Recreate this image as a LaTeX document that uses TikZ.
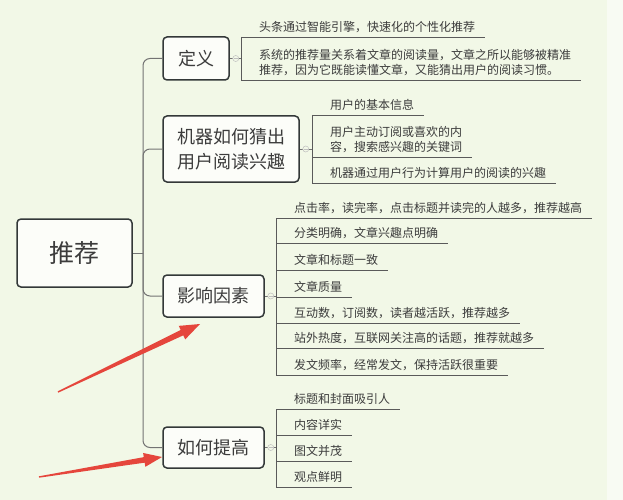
\documentclass[tikz,border=0pt]{standalone}
\usepackage{fontspec}
\setmainfont{Noto Sans CJK SC}
\usetikzlibrary{calc}
\definecolor{bg}{HTML}{F2F8E7}
\definecolor{bgr}{HTML}{F8FBF3}
\definecolor{txt}{HTML}{3C3C3C}
\definecolor{bord}{HTML}{333838}
\definecolor{ln}{HTML}{5A5A5A}
\definecolor{arr}{HTML}{E5463C}
\tikzset{
 topic/.style={draw=bord, line width=1.5pt, rounded corners=4pt, fill=white!75!bg, text=txt, inner sep=0pt, font=\fontsize{18}{25}\selectfont, align=center},
 leaf/.style={inner sep=0pt, text=txt, font=\fontsize{12}{15}\selectfont, align=left, anchor=south west},
 uline/.style={draw=ln, line width=0.9pt},
 conn/.style={draw=ln!85, line width=1pt},
 marker/.style={circle, draw=gray!50, fill=bg, line width=0.5pt, minimum size=6pt, inner sep=0pt,
   path picture={\draw[gray!50,line width=0.5pt] ([xshift=-1.8pt]path picture bounding box.center) -- ([xshift=1.8pt]path picture bounding box.center);}},
}
\newcommand{\uln}[1]{\draw[uline] ([xshift=-18pt,yshift=-4pt]#1.south west) -- ([xshift=10pt,yshift=-4pt]#1.south east);}
\newcommand{\brk}[2]{\draw[uline] ([xshift=-18pt,yshift=-4pt]#1.south west) -- ([xshift=-18pt,yshift=-4pt]#2.south west);}
\begin{document}
\begin{tikzpicture}[x=1pt,y=-1pt]
\fill[bg] (0,0) rectangle (623,500);
\fill[bgr] (607,0) rectangle (623,500);
\useasboundingbox (0,0) rectangle (623,500);

% main topics
\node[topic, minimum width=115pt, minimum height=68pt, font=\fontsize{25}{30}\selectfont] (root) at (74.5,253) {推荐};
\node[topic, minimum width=66pt, minimum height=43pt] (def) at (196,58.5) {定义};
\node[topic, minimum width=136pt, minimum height=66pt] (mach) at (231,149) {机器如何猜出\\用户阅读兴趣};
\node[topic, minimum width=101pt, minimum height=42pt] (fac) at (213.5,296) {影响因素};
\node[topic, minimum width=101pt, minimum height=41pt] (imp) at (213.5,447.5) {如何提高};

% trunk
\coordinate (j) at (143,253);
\draw[conn] (root.east) -- (j);
\draw[conn, rounded corners=7pt] (j) -- (143,58.5) -- (def.west);
\draw[conn, rounded corners=7pt] (j) -- (143,149) -- (mach.west);
\draw[conn, rounded corners=7pt] (j) -- (143,296) -- (fac.west);
\draw[conn, rounded corners=7pt] (j) -- (143,447.5) -- (imp.west);

% leaves of 定义
\node[leaf] (d1) at (259,33) {头条通过智能引擎，快速化的个性化推荐};
\node[leaf] (d2) at (259,76) {系统的推荐量关系着文章的阅读量，文章之所以能够被精准\\推荐，因为它既能读懂文章，又能猜出用户的阅读习惯。};
\uln{d1}\uln{d2}\brk{d1}{d2}
\coordinate (db) at (241,58.5);
\draw[conn] (def.east) -- (db);
\node[marker] (dm) at ($(def.east)+(6,0)$) {};

% leaves of 机器
\node[leaf] (m1) at (330,111) {用户的基本信息};
\node[leaf] (m2) at (330,153) {用户主动订阅或喜欢的内\\容，搜索感兴趣的关键词};
\node[leaf] (m3) at (330,179) {机器通过用户行为计算用户的阅读的兴趣};
\uln{m1}\uln{m2}\uln{m3}\brk{m1}{m3}
\coordinate (mb) at (312,149);
\draw[conn] (mach.east) -- (mb);
\node[marker] (mm) at ($(mach.east)+(6,0)$) {};

% leaves of 影响因素
\node[leaf] (f1) at (294,214) {点击率，读完率，点击标题并读完的人越多，推荐越高};
\node[leaf] (f2) at (294,239) {分类明确，文章兴趣点明确};
\node[leaf] (f3) at (294,266) {文章和标题一致};
\node[leaf] (f4) at (294,293) {文章质量};
\node[leaf] (f5) at (294,319) {互动数，订阅数，读者越活跃，推荐越多};
\node[leaf] (f6) at (294,344) {站外热度，互联网关注高的话题，推荐就越多};
\node[leaf] (f7) at (294,371) {发文频率，经常发文，保持活跃很重要};
\uln{f1}\uln{f2}\uln{f3}\uln{f4}\uln{f5}\uln{f6}\uln{f7}\brk{f1}{f7}
\coordinate (fb) at (276,296);
\draw[conn] (fac.east) -- (fb);
\node[marker] (fm) at ($(fac.east)+(6,0)$) {};

% leaves of 如何提高
\node[leaf] (i1) at (294,405) {标题和封面吸引人};
\node[leaf] (i2) at (294,431) {内容详实};
\node[leaf] (i3) at (294,457) {图文并茂};
\node[leaf] (i4) at (294,483) {观点鲜明};
\uln{i1}\uln{i2}\uln{i3}\uln{i4}\brk{i1}{i4}
\coordinate (ib) at (276,447.5);
\draw[conn] (imp.east) -- (ib);
\node[marker] (im) at ($(imp.east)+(6,0)$) {};

% red arrows
\coordinate (a1s) at (58,392);
\coordinate (a1t) at (200,324);
\coordinate (a1b) at ($(a1t)!20pt!(a1s)$);
\fill[arr] ($(a1s)!0.7pt!90:(a1t)$) -- ($(a1b)!3pt!90:(a1t)$) -- ($(a1b)!7.5pt!90:(a1t)$) -- (a1t) -- ($(a1b)!7.5pt!-90:(a1t)$) -- ($(a1b)!3pt!-90:(a1t)$) -- ($(a1s)!0.7pt!-90:(a1t)$) -- cycle;
\coordinate (a2s) at (39,477);
\coordinate (a2t) at (162,457);
\coordinate (a2b) at ($(a2t)!18pt!(a2s)$);
\fill[arr] ($(a2s)!0.7pt!90:(a2t)$) -- ($(a2b)!2.8pt!90:(a2t)$) -- ($(a2b)!7pt!90:(a2t)$) -- (a2t) -- ($(a2b)!7pt!-90:(a2t)$) -- ($(a2b)!2.8pt!-90:(a2t)$) -- ($(a2s)!0.7pt!-90:(a2t)$) -- cycle;
\end{tikzpicture}
\end{document}
